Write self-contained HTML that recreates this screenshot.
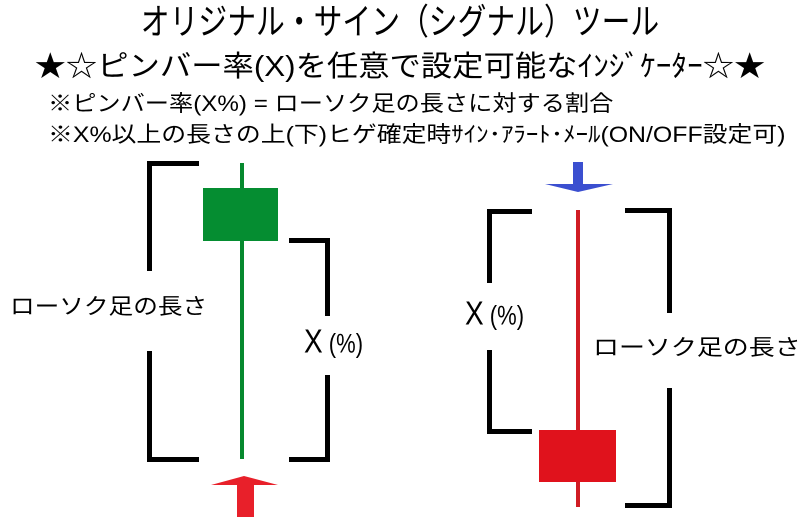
<!DOCTYPE html>
<html><head><meta charset="utf-8"><style>
body{margin:0;width:800px;height:517px;background:#fff;overflow:hidden;position:relative;font-family:"Liberation Sans","Noto Sans CJK JP",sans-serif;color:#000}
.t{position:absolute;white-space:nowrap}
.b{position:absolute;background:#000}
</style></head><body>
<div class="t" style="left:0;width:800px;text-align:center;top:2px;font-size:36px;line-height:40px;transform:scaleX(0.8)">オリジナル・サイン（シグナル）ツール</div>
<div class="t" style="left:0;width:800px;text-align:center;top:50px;font-size:29px;line-height:34px;transform:scaleX(1.08)">★☆ピンバー率(X)を任意で設定可能なｲﾝｼﾞｹｰﾀｰ☆★</div>
<div class="t" style="left:48px;top:90px;font-size:22px;line-height:28px;transform:scaleX(1.1);transform-origin:0 0">※ピンバー率(X%) = ローソク足の長さに対する割合</div>
<div class="t" style="left:48px;top:121px;font-size:22px;line-height:28px;transform:scaleX(1.13);transform-origin:0 0">※X%以上の長さの上(下)ヒゲ確定時ｻｲﾝ･ｱﾗｰﾄ･ﾒｰﾙ(ON/OFF設定可)</div>

<!-- left candle -->
<div class="b" style="left:147px;top:161px;width:52px;height:5px"></div>
<div class="b" style="left:147px;top:161px;width:5px;height:110px"></div>
<div class="b" style="left:147px;top:351px;width:5px;height:111px"></div>
<div class="b" style="left:147px;top:457px;width:52px;height:5px"></div>
<div class="t" style="left:10px;top:292px;font-size:22px;line-height:30px;transform:scaleX(1.12);transform-origin:0 0">ローソク足の長さ</div>
<div style="position:absolute;left:240px;top:163px;width:4px;height:296px;background:#06892e"></div>
<div style="position:absolute;left:203px;top:188px;width:75px;height:53px;background:#058d31"></div>
<div class="b" style="left:289px;top:238px;width:40px;height:5px"></div>
<div class="b" style="left:325px;top:238px;width:5px;height:78px"></div>
<div class="b" style="left:325px;top:375px;width:5px;height:87px"></div>
<div class="b" style="left:289px;top:457px;width:40px;height:5px"></div>
<div class="t" style="left:304px;top:326px;font-size:28px;line-height:32px;transform:scaleY(1.2)">X<span style="font-size:22px"> (%)</span></div>
<svg style="position:absolute;left:0;top:0" width="800" height="517">
<polygon points="211,485 244,476 278,485" fill="#e8202a"/>
<rect x="237" y="484" width="17" height="33" fill="#e8202a"/>
<rect x="573" y="162" width="10" height="23" fill="#3b4fd0"/>
<polygon points="545,184 613,184 578,192" fill="#3b4fd0"/>
</svg>

<!-- right candle -->
<div class="b" style="left:487px;top:209px;width:45px;height:5px"></div>
<div class="b" style="left:487px;top:209px;width:5px;height:74px"></div>
<div class="b" style="left:487px;top:350px;width:5px;height:84px"></div>
<div class="b" style="left:487px;top:429px;width:45px;height:5px"></div>
<div style="position:absolute;left:576px;top:210px;width:4px;height:297px;background:#d01c24"></div>
<div style="position:absolute;left:539px;top:430px;width:77px;height:52px;background:#e0121c"></div>
<div class="b" style="left:625px;top:208px;width:47px;height:5px"></div>
<div class="b" style="left:667px;top:208px;width:5px;height:105px"></div>
<div class="b" style="left:667px;top:388px;width:5px;height:120px"></div>
<div class="b" style="left:625px;top:503px;width:47px;height:5px"></div>
<div class="t" style="left:465px;top:298px;font-size:28px;line-height:32px;transform:scaleY(1.2)">X<span style="font-size:22px"> (%)</span></div>
<div class="t" style="left:593px;top:333px;font-size:22px;line-height:30px;transform:scaleX(1.18);transform-origin:0 0">ローソク足の長さ</div>
</body></html>
